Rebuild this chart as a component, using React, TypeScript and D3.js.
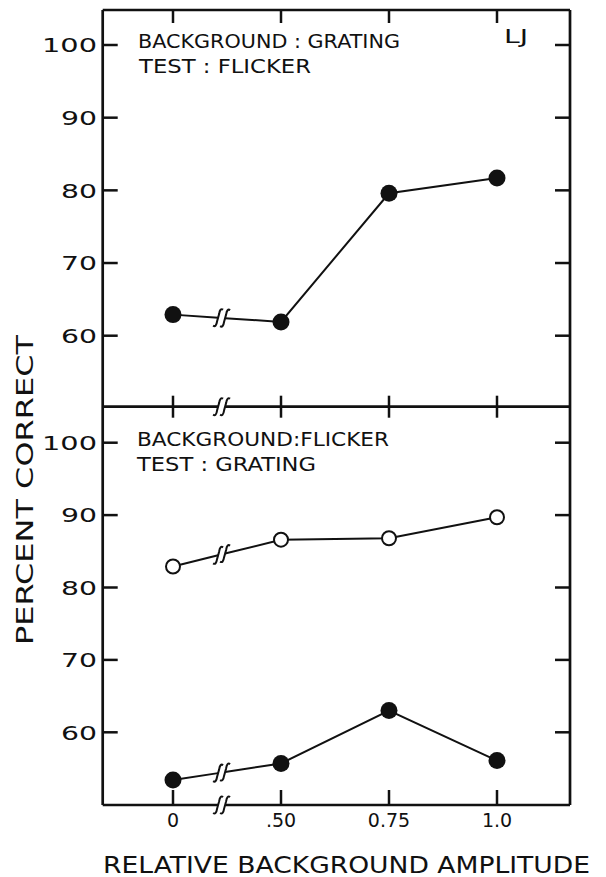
import React from 'react';
import * as d3 from 'd3';

// relative background amplitude (axis is broken between 0 and .50)
const amplitudes = ['0', '.50', '0.75', '1.0'];
const yTickValues = [60, 70, 80, 90, 100];

// top: background grating, test flicker
const gratingFlicker = [62.9, 61.9, 79.6, 81.7];
// bottom: background flicker, test grating
const flickerGratingOpen = [82.9, 86.6, 86.8, 89.7];
const flickerGratingFilled = [53.4, 55.7, 63.0, 56.1];

const W = 606;
const H = 877;
const left = 102.7;
const right = 570;
const top1 = 10;
const mid = 406.7;
const bottom = 805;

const FONT = 'DejaVu Sans, sans-serif';
const INK = '#111';

const x = d3.scalePoint<string>().domain(amplitudes).range([173, 497]);
const yTop = d3.scaleLinear().domain([60, 100]).range([335.7, 45]);
const yBot = d3.scaleLinear().domain([60, 100]).range([732.3, 442.7]);

// where the axis break sits, between "0" and ".50"
const xBreak = x('0')! + 0.45 * (x('.50')! - x('0')!);
const gap = 3.5;

// integral-sign shaped squiggle used for the break marks
function squiggle(cx: number, cy: number, h = 9) {
  const p = d3.path();
  p.moveTo(cx - 5, cy + h - 1);
  p.quadraticCurveTo(cx - 2, cy + h + 1, cx - 1, cy + h * 0.4);
  p.lineTo(cx + 1, cy - h * 0.4);
  p.quadraticCurveTo(cx + 2, cy - h - 1, cx + 5, cy - h + 1);
  return p.toString();
}

function BreakMarks({ cy }: { cy: number }) {
  return (
    <g fill="none" stroke={INK} strokeWidth={2}>
      <path d={squiggle(xBreak - gap, cy)} />
      <path d={squiggle(xBreak + gap, cy)} />
    </g>
  );
}

function Series({ values, y, filled }: { values: number[]; y: d3.ScaleLinear<number, number>; filled: boolean }) {
  const pts: [number, number][] = values.map((v, i) => [x(amplitudes[i])!, y(v)]);
  const [p0, p1] = pts;
  const at = (xx: number) => p0[1] + ((xx - p0[0]) / (p1[0] - p0[0])) * (p1[1] - p0[1]);
  const line = d3.line();
  const first = line([p0, [xBreak - gap, at(xBreak - gap)]]);
  const rest = line([[xBreak + gap, at(xBreak + gap)], ...pts.slice(1)]);
  return (
    <g>
      <path d={first!} fill="none" stroke={INK} strokeWidth={2} />
      <path d={rest!} fill="none" stroke={INK} strokeWidth={2} />
      <g fill="none" stroke={INK} strokeWidth={2}>
        <path d={squiggle(xBreak - gap, at(xBreak - gap))} />
        <path d={squiggle(xBreak + gap, at(xBreak + gap))} />
      </g>
      {pts.map((p, i) => (
        <circle
          key={i}
          cx={p[0]}
          cy={p[1]}
          r={filled ? 8.5 : 7}
          fill={filled ? INK : '#fff'}
          stroke={INK}
          strokeWidth={filled ? 0 : 2}
        />
      ))}
    </g>
  );
}

function YAxis({ y }: { y: d3.ScaleLinear<number, number> }) {
  return (
    <g>
      {yTickValues.map((t) => (
        <g key={t}>
          <line x1={left} x2={left + 15} y1={y(t)} y2={y(t)} stroke={INK} strokeWidth={2.5} />
          <line x1={right - 15} x2={right} y1={y(t)} y2={y(t)} stroke={INK} strokeWidth={2.5} />
          <text x={97} y={y(t)} dy="0.36em" textAnchor="end" fontSize={20} fontFamily={FONT} fill={INK}
            textLength={t === 100 ? 55 : 36} lengthAdjust="spacingAndGlyphs">
            {t}
          </text>
        </g>
      ))}
    </g>
  );
}

export default function App() {
  const stroke = { stroke: INK, strokeWidth: 2.7 };
  return (
    <svg width={W} height={H} style={{ position: 'absolute', left: 0, top: 0, background: '#fff' }}>
      <rect width={W} height={H} fill="#fff" />

      {/* frame */}
      <line x1={left} x2={left} y1={top1} y2={bottom} {...stroke} />
      <line x1={right} x2={right} y1={top1} y2={bottom} {...stroke} />
      <line x1={left} x2={right} y1={top1} y2={top1} {...stroke} />
      <line x1={left} x2={xBreak - gap} y1={mid} y2={mid} {...stroke} />
      <line x1={xBreak + gap} x2={right} y1={mid} y2={mid} {...stroke} />
      <line x1={left} x2={xBreak - gap} y1={bottom} y2={bottom} {...stroke} />
      <line x1={xBreak + gap} x2={right} y1={bottom} y2={bottom} {...stroke} />
      <BreakMarks cy={mid} />
      <BreakMarks cy={bottom} />

      {/* x ticks */}
      {amplitudes.map((a) => (
        <g key={a} stroke={INK} strokeWidth={2.5}>
          <line x1={x(a)} x2={x(a)} y1={top1} y2={top1 + 13} />
          <line x1={x(a)} x2={x(a)} y1={mid - 11} y2={mid + 11} />
          <line x1={x(a)} x2={x(a)} y1={bottom - 15} y2={bottom} />
        </g>
      ))}
      {amplitudes.map((a) => (
        <text key={a} x={x(a)} y={827} textAnchor="middle" fontSize={19} fontFamily={FONT} fill={INK}>
          {a}
        </text>
      ))}

      <YAxis y={yTop} />
      <YAxis y={yBot} />

      {/* annotations */}
      <g fontFamily={FONT} fontSize={20} fill={INK}>
        <text x={138} y={48} textLength={262} lengthAdjust="spacingAndGlyphs">BACKGROUND : GRATING</text>
        <text x={139} y={73} textLength={172} lengthAdjust="spacingAndGlyphs">TEST : FLICKER</text>
        <text x={504} y={43} textLength={24} lengthAdjust="spacingAndGlyphs">LJ</text>
        <text x={137} y={446} textLength={252} lengthAdjust="spacingAndGlyphs">BACKGROUND:FLICKER</text>
        <text x={137} y={471} textLength={179} lengthAdjust="spacingAndGlyphs">TEST :  GRATING</text>
      </g>

      <Series values={gratingFlicker} y={yTop} filled />
      <Series values={flickerGratingOpen} y={yBot} filled={false} />
      <Series values={flickerGratingFilled} y={yBot} filled />

      {/* axis titles */}
      <text x={103} y={873} fontSize={23} fontFamily={FONT} fill={INK} textLength={487} lengthAdjust="spacingAndGlyphs">
        RELATIVE BACKGROUND AMPLITUDE
      </text>
      <text
        transform={`translate(33,490) rotate(-90)`}
        textAnchor="middle"
        fontSize={23}
        fontFamily={FONT}
        fill={INK}
        textLength={310}
        lengthAdjust="spacingAndGlyphs"
      >
        PERCENT CORRECT
      </text>
    </svg>
  );
}
